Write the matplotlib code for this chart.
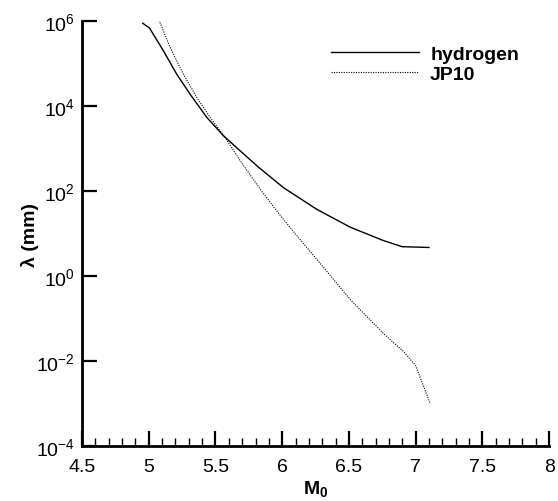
import numpy as np
import matplotlib.pyplot as plt
from matplotlib.ticker import MultipleLocator, FixedLocator, NullLocator

plt.rcParams['font.family'] = ['Liberation Sans', 'DejaVu Sans']
plt.rcParams['mathtext.fontset'] = 'custom'
plt.rcParams['mathtext.rm'] = 'Liberation Sans'
plt.rcParams['mathtext.it'] = 'Liberation Sans'
plt.rcParams['mathtext.bf'] = 'Liberation Sans:bold'

# Дані кривих
m_h2 = [4.955, 5.005, 5.11, 5.21, 5.31, 5.435, 5.56, 5.684, 5.82, 6.01, 6.26, 6.51, 6.76, 6.90, 7.10]
lam_h2 = [8.9e5, 6.9e5, 2.0e5, 5.6e4, 1.9e4, 5.4e3, 2.0e3, 890, 370, 120, 37, 14.1, 6.8, 4.9, 4.7]

m_jp10 = [5.077, 5.16, 5.26, 5.36, 5.46, 5.572, 5.684, 5.834, 5.984, 6.134, 6.284,
          6.51, 6.76, 6.91, 7.0, 7.11]
lam_jp10 = [1.05e6, 2.4e5, 5.6e4, 1.6e4, 5.4e3, 1.82e3, 525, 112, 27, 7.2, 2.0,
            0.28, 0.044, 0.0166, 7.8e-3, 9.8e-4]

yticks = [1e-4, 1e-2, 1e0, 1e2, 1e4, 1e6]
ytick_labels = ['$10^{-4}$', '$10^{-2}$', '$10^{0}$', '$10^{2}$', '$10^{4}$', '$10^{6}$']

fig = plt.figure(figsize=(5.58, 5.02), dpi=100)
ax = fig.add_axes([0.147, 0.1096, 0.837, 0.8464])

ax.plot(m_h2, lam_h2, color='black', lw=1.0, label='hydrogen')
ax.plot(m_jp10, lam_jp10, color='black', lw=0.8, linestyle=(0, (1, 1.2)), label='JP10')

ax.set_yscale('log')
ax.set_xlim(4.5, 8)
ax.set_ylim(1e-4, 1e6)

ax.xaxis.set_major_locator(MultipleLocator(0.5))
ax.xaxis.set_minor_locator(MultipleLocator(0.1))
ax.set_xticklabels([f'{v:g}' for v in ax.get_xticks()])
ax.yaxis.set_major_locator(FixedLocator(yticks))
ax.yaxis.set_minor_locator(NullLocator())
ax.set_yticklabels(ytick_labels)

for s in ['top', 'right']:
    ax.spines[s].set_visible(False)
for s in ['left', 'bottom']:
    ax.spines[s].set_linewidth(2)

ax.tick_params(axis='both', which='major', direction='in', length=11, width=1.6,
               labelsize=14)
ax.tick_params(axis='x', which='major', pad=9)
ax.tick_params(axis='y', which='major', pad=5)
ax.tick_params(axis='x', which='minor', direction='in', length=6, width=1.0)

ax.set_xlabel('M$_\\mathbf{0}$', fontsize=14, fontweight='bold', labelpad=2)
ax.set_ylabel('λ (mm)', fontsize=14, fontweight='bold', labelpad=-2)

ax.legend(loc='upper left', bbox_to_anchor=(331 / 558, 1 - 46 / 502),
          bbox_transform=fig.transFigure, frameon=False, borderpad=0, borderaxespad=0,
          prop={'weight': 'bold', 'size': 14}, handlelength=4.5, labelspacing=0.13,
          handletextpad=0.6)

plt.savefig('out.png', dpi=100)
